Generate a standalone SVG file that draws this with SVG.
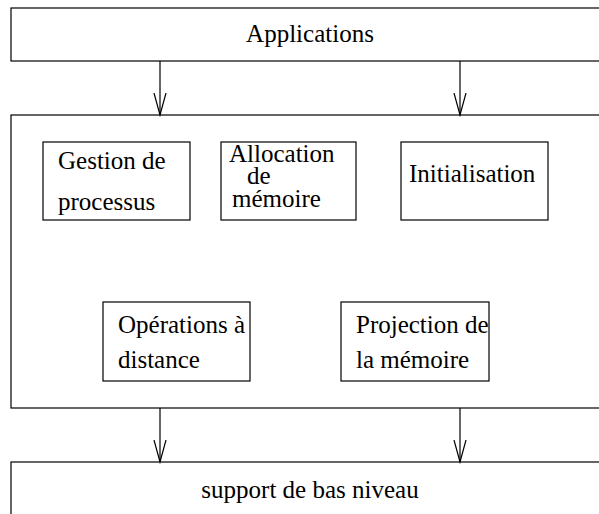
<svg xmlns="http://www.w3.org/2000/svg" width="599" height="514" viewBox="0 0 599 514">
  <style>
    rect { fill: #fff; stroke: #000; stroke-width: 1.2; }
    text { font-family: "Liberation Serif", "Times New Roman", serif; font-size: 25px; fill: #000; }
    .conn line { stroke: #000; stroke-width: 1.2; }
  </style>
  <defs>
    <!-- open V arrowhead, drawn along +x so orient="auto" points it down the line -->
    <marker id="vhead" markerWidth="24" markerHeight="14" refX="22" refY="7" orient="auto" markerUnits="userSpaceOnUse" viewBox="0 0 24 14">
      <path d="M0,1 L22,7 L0,13" fill="none" stroke="#000" stroke-width="1.2"/>
    </marker>
  </defs>
  <rect width="599" height="514" fill="#fff" stroke="none" style="stroke:none"/>

  <g id="applications">
    <rect x="11" y="8" width="600" height="53"/>
    <text x="310" y="42" text-anchor="middle">Applications</text>
  </g>

  <g id="noyau">
    <rect x="11" y="115" width="600" height="293"/>
  </g>

  <g id="gestion">
    <rect x="43" y="142" width="147" height="78"/>
    <text x="58" y="169">Gestion de</text>
    <text x="58" y="210">processus</text>
  </g>

  <g id="allocation">
    <rect x="221" y="142" width="135" height="78"/>
    <text x="229" y="162">Allocation</text>
    <text x="247" y="184">de</text>
    <text x="232" y="207">mémoire</text>
  </g>

  <g id="initialisation">
    <rect x="401" y="142" width="147" height="78"/>
    <text x="409" y="182">Initialisation</text>
  </g>

  <g id="operations">
    <rect x="103" y="302" width="147" height="79"/>
    <text x="118" y="333">Opérations à</text>
    <text x="118" y="368">distance</text>
  </g>

  <g id="projection">
    <rect x="341" y="302" width="148" height="79"/>
    <text x="356" y="333">Projection de</text>
    <text x="356" y="368">la mémoire</text>
  </g>

  <g id="support">
    <rect x="11" y="462" width="600" height="80"/>
    <text x="310" y="498" text-anchor="middle">support de bas niveau</text>
  </g>

  <g class="conn" id="connectors">
    <line x1="160" y1="61" x2="160" y2="115" marker-end="url(#vhead)"/>
    <line x1="460" y1="61" x2="460" y2="115" marker-end="url(#vhead)"/>
    <line x1="160" y1="408" x2="160" y2="462" marker-end="url(#vhead)"/>
    <line x1="460" y1="408" x2="460" y2="462" marker-end="url(#vhead)"/>
  </g>
</svg>
